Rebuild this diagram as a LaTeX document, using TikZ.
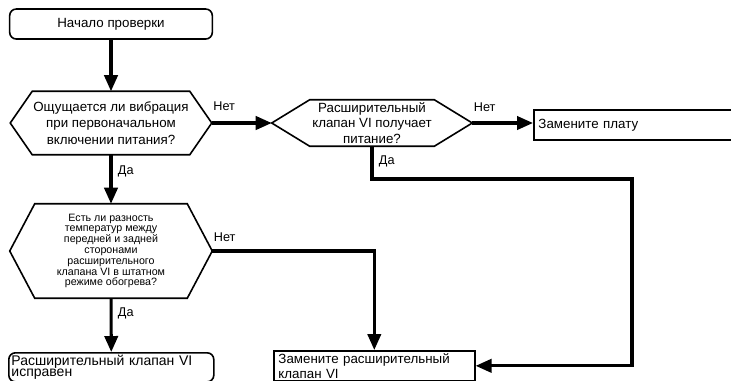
\documentclass[tikz,border=0pt]{standalone}
\usepackage{fontspec}
\setmainfont{Liberation Sans}
\usetikzlibrary{arrows.meta,positioning}

\begin{document}
\begin{tikzpicture}[x=0.75pt,y=-0.75pt,
    every node/.style={font=\fontsize{10}{12}\selectfont},
    box/.style={rectangle,draw,line width=1.2pt,inner xsep=3.5pt,inner ysep=2pt,align=left,anchor=north west},
    term/.style={box,rounded corners=5pt},
    hexa/.style={rectangle,align=center,inner sep=0pt},
    flow/.style={line width=2.3pt,-{Triangle[length=12pt,width=10pt]}},
    lbl/.style={inner sep=0pt,font=\fontsize{9.5}{11}\selectfont}]
  \useasboundingbox (0,0) rectangle (731,380);
  \clip (0,0) rectangle (731,380);

  \node[term,anchor=center,align=center,minimum width=152pt,minimum height=22.5pt] (start) at (111,24) {Начало проверки};
  \node[hexa,minimum width=150.75pt,minimum height=47.25pt,font=\fontsize{10}{12.5}\selectfont] (vib) at (111,123) {Ощущается ли вибрация\\при первоначальном\\включении питания?};
  \node[hexa,minimum width=150pt,minimum height=34.5pt,font=\fontsize{10}{11.5}\selectfont] (power) at (372,123) {Расширительный\\клапан VI получает\\питание?};
  \node[box,minimum height=22.5pt,text width=150pt] (board) at (533,109) {Замените плату};
  \node[hexa,minimum width=151.5pt,minimum height=70.5pt,font=\fontsize{8}{8.1}\selectfont] (temp) at (111,251) {Есть ли разность\\температур между\\передней и задней\\сторонами\\расширительного\\клапана VI в штатном\\режиме обогрева?};
  \node[term,inner xsep=2pt,inner ysep=1.8pt,text width=149.75pt,font=\fontsize{10.5}{8.2}\selectfont] (ok) at (8,352) {Расширительный клапан VI\\исправен};
  \node[box,text width=143.75pt,font=\fontsize{10}{11}\selectfont] (valve) at (273,350) {Замените расширительный\\клапан VI};
  \coordinate (turn) at (632,179);

  % hexagon outlines of the three questions
  \foreach \n/\c in {vib/16.5pt,power/28.5pt,temp/18.75pt}
    \draw[line width=1.2pt] (\n.west) -- ([xshift=\c]\n.north west) -- ([xshift=-\c]\n.north east)
      -- (\n.east) -- ([xshift=-\c]\n.south east) -- ([xshift=\c]\n.south west) -- cycle;

  \draw[flow] (start) -- (vib);
  \draw[flow] (vib.east) -- (power.west);
  \draw[flow] (power.east) -- (power.east -| board.west);
  \draw[flow] (power.south) |- (turn) |- (valve.east);
  \draw[flow] (vib) -- (temp);
  \draw[flow] (temp.east) -| (valve.north);
  \draw[flow] (temp) -- (ok);

  \node[lbl,above right=9pt and 1pt of vib.east] {Нет};
  \node[lbl,above right=8.5pt and 1pt of power.east] {Нет};
  \node[lbl,above right=7pt and 1pt of temp.east] {Нет};
  \node[lbl,below right=8pt and 5pt of vib.south] {Да};
  \node[lbl,below right=6.75pt and 5pt of power.south] {Да};
  \node[lbl,below right=6.75pt and 5pt of temp.south] {Да};
\end{tikzpicture}
\end{document}
